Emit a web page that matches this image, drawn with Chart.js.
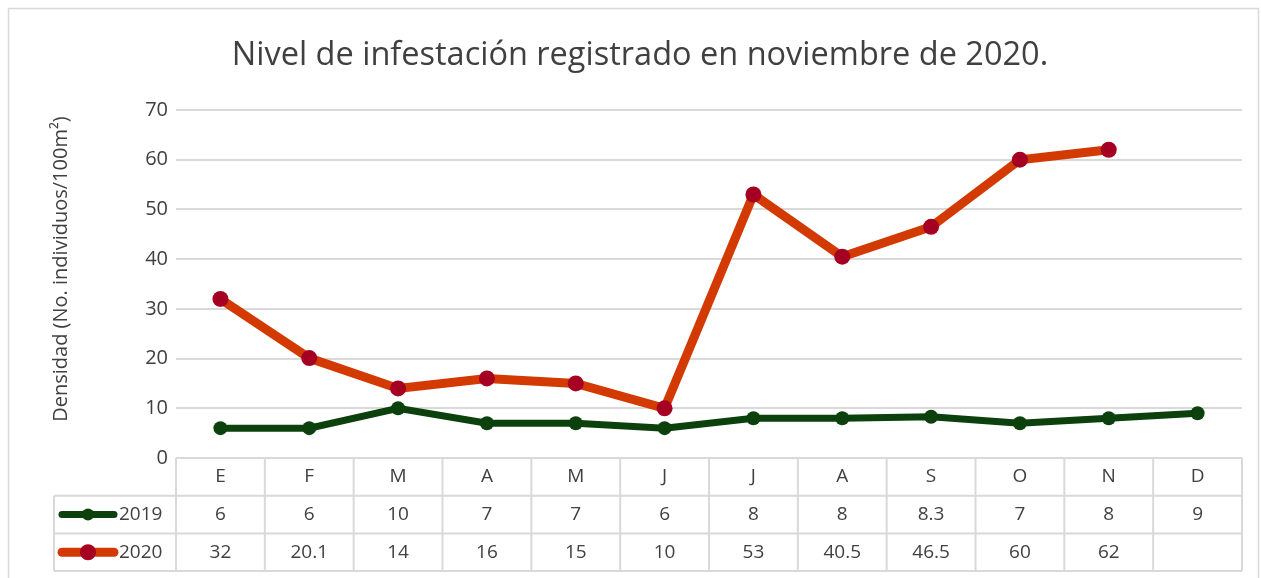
<!DOCTYPE html>
<html>
<head>
<meta charset="utf-8">
<script src="https://cdn.jsdelivr.net/npm/chart.js@4.4.1/dist/chart.umd.min.js"></script>
<style>
  html, body { margin: 0; padding: 0; background: #fff; }
  #wrap { width: 1261px; height: 578px; position: relative; }
</style>
</head>
<body>
<div id="wrap"><canvas id="chart" width="1261" height="578"></canvas></div>
<script>
const months = ['E', 'F', 'M', 'A', 'M', 'J', 'J', 'A', 'S', 'O', 'N', 'D'];
const data2019 = [6, 6, 10, 7, 7, 6, 8, 8, 8.3, 7, 8, 9];
const data2020 = [32, 20.1, 14, 16, 15, 10, 53, 40.5, 46.5, 60, 62, null];
const yTicks = [0, 10, 20, 30, 40, 50, 60, 70];
const yTitle = 'Densidad (No. individuos/100m²)';

const FONT = '"Open Sans", "Noto Sans", sans-serif';
const TEXT = '#404040';
const GRID = '#d9d9d9';

const green = '#0c400c';
const red = '#d23a02';
const redMarker = '#a50021';

// data table under the plot, aligned to the category scale
const tablePlugin = {
  id: 'dataTable',
  afterDraw(chart) {
    const ctx = chart.ctx;
    const x = chart.scales.x;
    const area = chart.chartArea;
    const top = area.bottom;
    const rowH = 37.7;
    const half = (x.getPixelForValue(1) - x.getPixelForValue(0)) / 2;
    const left = x.getPixelForValue(0) - half;
    const right = x.getPixelForValue(months.length - 1) + half;
    const legLeft = 54;

    ctx.save();
    ctx.strokeStyle = GRID;
    ctx.lineWidth = 2;
    ctx.beginPath();
    // horizontal lines
    ctx.moveTo(left, top); ctx.lineTo(right, top);
    for (let r = 1; r <= 3; r++) {
      ctx.moveTo(legLeft, top + rowH * r); ctx.lineTo(right, top + rowH * r);
    }
    // vertical lines
    for (let i = 0; i <= months.length; i++) {
      const px = left + i * half * 2;
      ctx.moveTo(px, top); ctx.lineTo(px, top + rowH * 3);
    }
    ctx.moveTo(legLeft, top + rowH); ctx.lineTo(legLeft, top + rowH * 3);
    ctx.stroke();

    ctx.fillStyle = TEXT;
    ctx.font = '19px ' + FONT;
    ctx.textAlign = 'center';
    ctx.textBaseline = 'middle';
    months.forEach((m, i) => {
      const px = x.getPixelForValue(i);
      ctx.fillText(m, px, top + rowH * 0.5);
      ctx.fillText(data2019[i] == null ? '' : String(data2019[i]), px, top + rowH * 1.5);
      ctx.fillText(data2020[i] == null ? '' : String(data2020[i]), px, top + rowH * 2.5);
    });

    // legend keys
    const keys = [
      { label: '2019', line: green, marker: green, w: 7, r: 6, y: top + rowH * 1.5 },
      { label: '2020', line: red, marker: redMarker, w: 9, r: 8, y: top + rowH * 2.5 }
    ];
    keys.forEach(k => {
      ctx.strokeStyle = k.line;
      ctx.lineWidth = k.w;
      ctx.lineCap = 'round';
      ctx.beginPath();
      ctx.moveTo(62, k.y); ctx.lineTo(114, k.y);
      ctx.stroke();
      ctx.fillStyle = k.marker;
      ctx.beginPath();
      ctx.arc(88, k.y, k.r, 0, Math.PI * 2);
      ctx.fill();
      ctx.fillStyle = TEXT;
      ctx.textAlign = 'left';
      ctx.fillText(k.label, 119, k.y);
    });

    // y axis title (Excel centres it a little above the plot middle)
    ctx.save();
    ctx.translate(61, (area.top + area.bottom) / 2 - 15);
    ctx.rotate(-Math.PI / 2);
    ctx.textAlign = 'center';
    ctx.font = '20px ' + FONT;
    ctx.fillStyle = TEXT;
    ctx.fillText(yTitle, 0, 0);
    ctx.restore();

    // outer chart border
    ctx.strokeStyle = GRID;
    ctx.lineWidth = 1.5;
    ctx.strokeRect(8.5, 8.5, 1250, 600);
    ctx.restore();
  }
};

new Chart(document.getElementById('chart'), {
  type: 'line',
  data: {
    labels: months,
    datasets: [
      {
        label: '2019',
        data: data2019,
        borderColor: green,
        backgroundColor: green,
        borderWidth: 7,
        pointRadius: 7,
        pointHoverRadius: 7,
        pointBackgroundColor: green,
        pointBorderWidth: 0,
        tension: 0
      },
      {
        label: '2020',
        data: data2020,
        borderColor: red,
        backgroundColor: redMarker,
        borderWidth: 9,
        pointRadius: 8,
        pointHoverRadius: 8,
        pointBackgroundColor: redMarker,
        pointBorderWidth: 0,
        tension: 0
      }
    ]
  },
  options: {
    responsive: false,
    animation: false,
    layout: { padding: { left: 38, right: 19, top: 0, bottom: 6 } },
    plugins: {
      legend: { display: false },
      tooltip: { enabled: false },
      title: {
        display: true,
        text: 'Nivel de infestación registrado en noviembre de 2020.',
        color: TEXT,
        font: { family: FONT, size: 32.5, weight: 'normal' },
        padding: { top: 36, bottom: 35 }
      }
    },
    scales: {
      x: {
        offset: true,
        grid: { display: false, drawTicks: false },
        border: { display: false },
        ticks: { display: false },
        afterFit(scale) { scale.height = 114; }
      },
      y: {
        min: 0,
        max: 70,
        afterBuildTicks(scale) { scale.ticks = yTicks.map(v => ({ value: v })); },
        grid: { color: GRID, lineWidth: 2, drawTicks: false },
        border: { display: false },
        ticks: { color: TEXT, font: { family: FONT, size: 20 }, padding: 8 },
        afterFit(scale) { scale.width = 138; }
      }
    }
  },
  plugins: [tablePlugin]
});
</script>
</body>
</html>
